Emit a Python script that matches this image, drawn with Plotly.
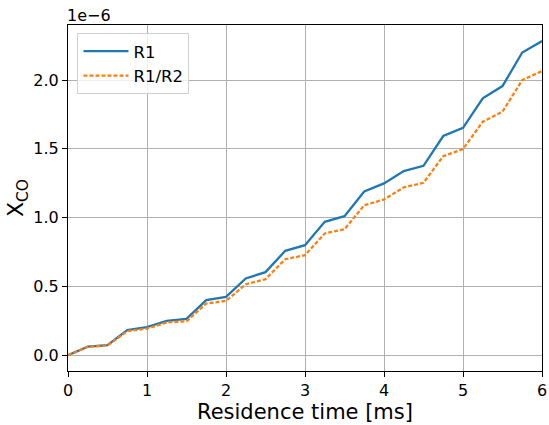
import plotly.graph_objects as go

time_ms = [0, 0.25, 0.5, 0.75, 1.0, 1.25, 1.5, 1.75, 2.0, 2.25, 2.5, 2.75, 3.0,
           3.25, 3.5, 3.75, 4.0, 4.25, 4.5, 4.75, 5.0, 5.25, 5.5, 5.75, 6.0]
# values in units of 1e-6
r1 = [0.0, 0.063, 0.073, 0.182, 0.204, 0.25, 0.264, 0.40, 0.424, 0.558, 0.604, 0.759, 0.80,
      0.97, 1.011, 1.19, 1.249, 1.338, 1.377, 1.593, 1.653, 1.867, 1.956, 2.20, 2.283]
r1r2 = [0.0, 0.062, 0.07, 0.175, 0.194, 0.238, 0.247, 0.376, 0.395, 0.516, 0.553, 0.698, 0.727,
        0.885, 0.916, 1.09, 1.132, 1.22, 1.253, 1.447, 1.498, 1.697, 1.77, 2.0, 2.065]
y_ticks = [0.0, 0.5, 1.0, 1.5, 2.0]
x_ticks = [0, 1, 2, 3, 4, 5, 6]

font = "DejaVu Sans"
fig = go.Figure()
fig.add_trace(go.Scatter(x=time_ms, y=r1, mode="lines", name="R1",
                         line=dict(color="#1f77b4", width=2.3)))
fig.add_trace(go.Scatter(x=time_ms, y=r1r2, mode="lines", name="R1/R2",
                         line=dict(color="#ff7f0e", width=2.3, dash="4px,2px")))

axis_common = dict(showline=True, linecolor="black", linewidth=1, mirror=True,
                   ticks="outside", ticklen=5, tickwidth=1, tickcolor="black",
                   showgrid=True, gridcolor="#b0b0b0", gridwidth=0.8, automargin=False,
                   zeroline=False, tickfont=dict(family=font, size=16, color="black"))
fig.update_xaxes(range=[0, 6], tickvals=x_ticks, ticktext=[str(v) for v in x_ticks],
                 title=dict(text="Residence time [ms]", font=dict(family=font, size=21, color="black"),
                            standoff=4),
                 **axis_common)
fig.update_yaxes(range=[-0.1145, 2.4], tickvals=y_ticks, ticktext=[f"{v:.1f}" for v in y_ticks],
                 title=dict(text="X<sub>CO</sub>", font=dict(family=font, size=22, color="black"),
                            standoff=3),
                 **axis_common)
fig.add_annotation(text="1e\u22126", xref="paper", yref="paper", x=0, y=1, xanchor="left",
                   yanchor="bottom", showarrow=False, yshift=-2, xshift=-3,
                   font=dict(family=font, size=16, color="black"))
fig.update_layout(width=549, height=425, margin=dict(l=68, r=7, t=25, b=54),
                  paper_bgcolor="white", plot_bgcolor="white",
                  legend=dict(x=0.02, y=0.977, xanchor="left", yanchor="top",
                              bgcolor="rgba(255,255,255,0.8)", bordercolor="#d0d0d0", borderwidth=1,
                              font=dict(family=font, size=16.5, color="black"),
                              itemwidth=45, tracegroupgap=4),
                  showlegend=True)
fig.write_html("out.html")
